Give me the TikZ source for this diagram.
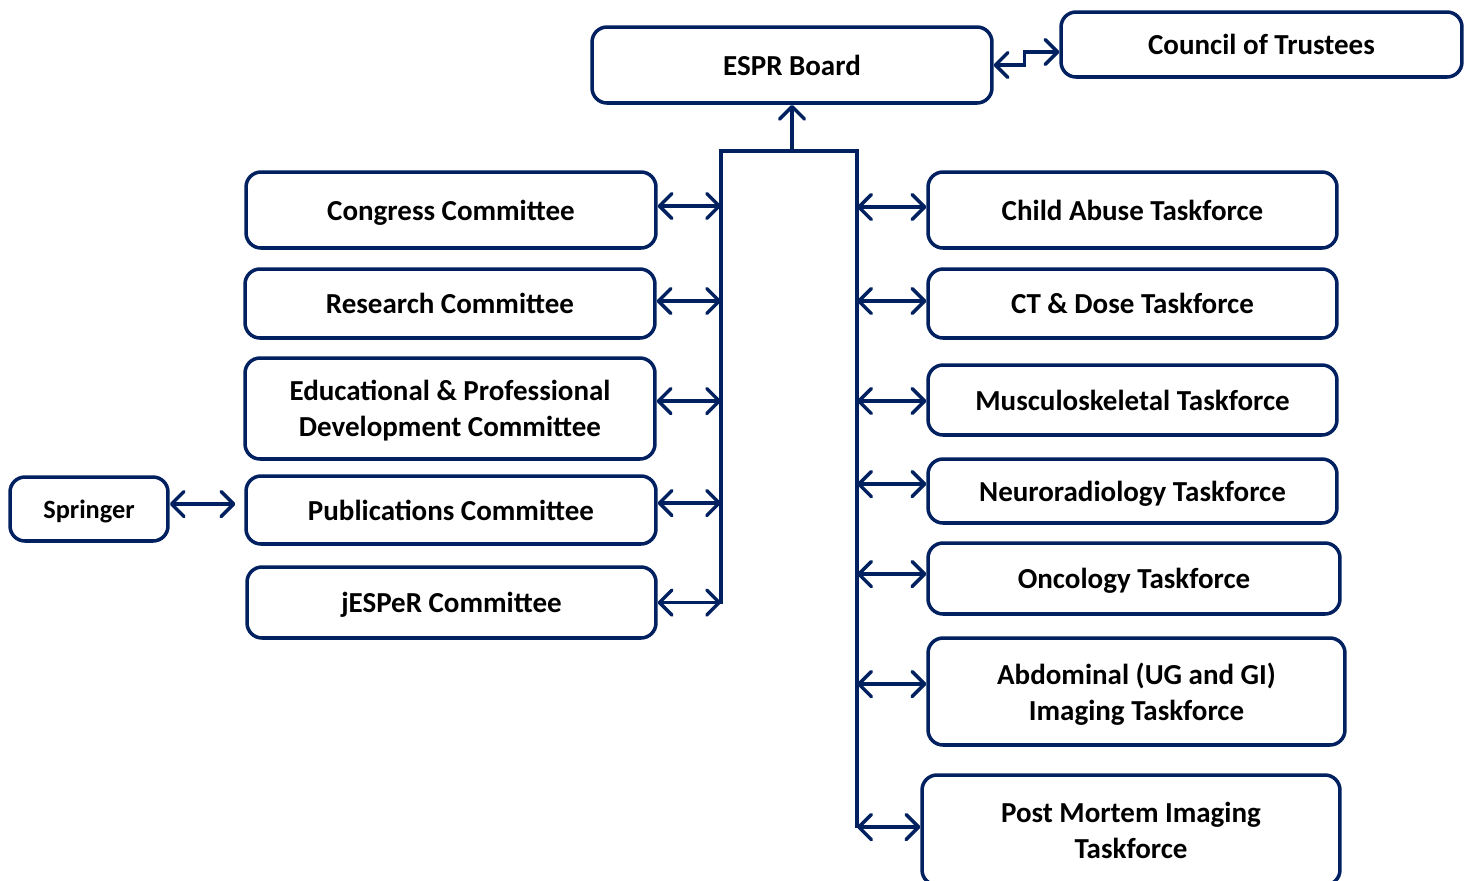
\documentclass[tikz,border=0pt]{standalone}
\usepackage{fontspec}
\setmainfont{Carlito}
\usepackage{tikz}
\usetikzlibrary{arrows.meta}
\definecolor{esprblue}{HTML}{002060}
\tikzset{>={Straight Barb[round,length=2.5mm,width=5mm]}}
\tikzstyle{box}=[
  draw=esprblue,
  line width=2pt,
  rounded corners=0.3cm,
  align=center,
  inner sep=0pt,
  text depth=0pt,
  font=\fontsize{16.5}{20.5}\selectfont\bfseries
]
\tikzstyle{link}=[draw=esprblue,line width=2pt]

\begin{document}
\begin{tikzpicture}[x=0.02cm,y=-0.02cm]
    \useasboundingbox (0,0) rectangle (1468,880);

    \node[box,minimum width=8cm,minimum height=1.52cm] (board) at (792,65) {ESPR Board};
    \node[box,minimum width=8.02cm,minimum height=1.3cm] (council) at (1261.5,44.5) {Council of Trustees};

    % committees
    \node[box,minimum width=8.2cm,minimum height=1.52cm] (cong) at (451,210) {Congress Committee};
    \node[box,minimum width=8.2cm,minimum height=1.38cm] (res) at (450,303.5) {Research Committee};
    \node[box,minimum width=8.2cm,minimum height=2.02cm] (edu) at (450,408.5) {Educational \& Professional\\Development Committee};
    \node[box,minimum width=8.2cm,minimum height=1.36cm] (pub) at (451,510) {Publications Committee};
    \node[box,minimum width=8.18cm,minimum height=1.42cm] (jes) at (451.5,602.5) {jESPeR Committee};
    \node[box,minimum width=3.16cm,minimum height=1.28cm,font=\fontsize{15}{18}\selectfont\bfseries] (spr) at (89,509) {Springer};

    % taskforces
    \node[box,minimum width=8.18cm,minimum height=1.52cm] (child) at (1132.5,210) {Child Abuse Taskforce};
    \node[box,minimum width=8.18cm,minimum height=1.38cm] (ct) at (1132.5,303.5) {CT \& Dose Taskforce};
    \node[box,minimum width=8.18cm,minimum height=1.4cm] (musc) at (1132.5,400) {Musculoskeletal Taskforce};
    \node[box,minimum width=8.18cm,minimum height=1.28cm] (neuro) at (1132.5,491) {Neuroradiology Taskforce};
    \node[box,minimum width=8.24cm,minimum height=1.42cm] (onc) at (1134,578.5) {Oncology Taskforce};
    \node[box,minimum width=8.34cm,minimum height=2.14cm] (abd) at (1136.5,691.5) {Abdominal (UG and GI)\\Imaging Taskforce};
    \node[box,minimum width=8.36cm,minimum height=2.2cm] (pm) at (1131,830) {Post Mortem Imaging\\Taskforce};

    % trunk
    \coordinate (bar) at (792,151);
    \coordinate (lt) at (721,151);
    \coordinate (lb) at (721,604);
    \coordinate (rt) at (857,151);
    \coordinate (rb) at (857,828);
    \draw[link] (lb) -- (lt) -- (rt) -- (rb);
    \draw[link,->] (bar) -- (board.south);
    \draw[link,<->] (board.east) -- ++(31,0) |- ([yshift=-0.15cm]council.west);

    \foreach \n/\dy in {cong/0.08,res/0.05,edu/0.15,pub/0.14,jes/0}
      \draw[link,<->] ([yshift=\dy cm]\n.east) -- ([yshift=\dy cm]\n.east -| lt);
    \foreach \n/\dy in {child/0.06,ct/0.05,musc/-0.02,neuro/0.14,onc/0.09,abd/0.15,pm/0.06}
      \draw[link,<->] ([yshift=\dy cm]\n.west -| rt) -- ([yshift=\dy cm]\n.west);

    \draw[link,<->,shorten >=0.18cm] ([yshift=0.1cm]spr.east) -- ([yshift=0.1cm]spr.east -| pub.west);
\end{tikzpicture}
\end{document}
